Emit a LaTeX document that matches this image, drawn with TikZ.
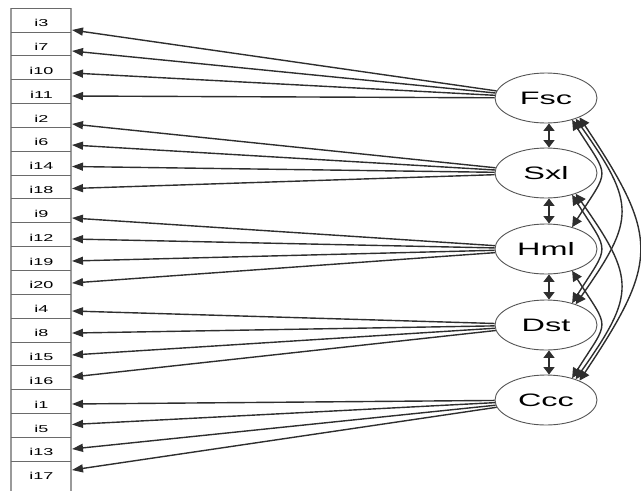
\documentclass[tikz,border=0pt]{standalone}
\usepackage{fontspec}
\setmainfont{Liberation Sans}
\newfontfamily\wfont[FakeStretch=1.8]{Liberation Sans}
\usetikzlibrary{arrows.meta,shapes.geometric,calc}
\definecolor{ln}{HTML}{2E2E2E}
\definecolor{bx}{HTML}{9A9A9A}
\definecolor{sep}{HTML}{6A6A6A}
\definecolor{el}{HTML}{555555}
\begin{document}
\begin{tikzpicture}[x=1pt,y=-1pt,
  lat/.style={ellipse,draw=el,line width=0.9pt,fill=white,minimum width=102pt,minimum height=50pt,inner sep=0pt,font=\wfont\fontsize{18pt}{18pt}\selectfont},
  itm/.style={inner sep=0pt,outer sep=0pt,minimum width=61pt,minimum height=12pt,font=\wfont\fontsize{10pt}{10pt}\selectfont},
  ld/.style={draw=ln,line width=1.4pt,-{Triangle[length=11pt,width=8pt]}},
  cv/.style={draw=ln,line width=1.4pt,{Triangle[length=7.5pt,width=11pt]}-{Triangle[length=7.5pt,width=11pt]}},
  cc/.style={draw=ln,line width=1.4pt,{Triangle[length=10pt,width=10pt]}-{Triangle[length=10pt,width=10pt]}},
  boxv/.style={draw=bx,line width=1.8pt},
  boxh/.style={draw=sep,line width=0.7pt}
]
\useasboundingbox (0,0) rectangle (641,491);
% item column
\draw[boxv] (11,8) -- (11,491);
\draw[boxv] (71,8) -- (71,491);
\foreach \k in {0,...,19} \draw[boxh] (11,{8+23.85*\k}) -- (71,{8+23.85*\k});
\foreach \k/\lab in {0/i3,1/i7,2/i10,3/i11,4/i2,5/i6,6/i14,7/i18,8/i9,9/i12,10/i19,11/i20,12/i4,13/i8,14/i15,15/i16,16/i1,17/i5,18/i13,19/i17}
  \node[itm] (b\k) at (41.5,{23+23.85*\k}) {\lab};
% latent variables
\node[lat] (Fsc) at (546,98) {Fsc};
\node[lat] (Sxl) at (546,173) {Sxl};
\node[lat] (Hml) at (546,249) {Hml};
\node[lat] (Dst) at (546,325) {Dst};
\node[lat] (Ccc) at (546,400) {Ccc};
% loadings
\foreach \s/\k/\d in {Fsc/0/7,Fsc/1/4.15,Fsc/2/2.3,Fsc/3/1.45,
  Sxl/4/5.6,Sxl/5/2.75,Sxl/6/0.4,Sxl/7/-1.45,
  Hml/8/4.2,Hml/9/1.35,Hml/10/-0.5,Hml/11/-2.35,
  Dst/12/1.8,Dst/13/0,Dst/14/-1.9,Dst/15/-3.75,
  Ccc/16/-0.6,Ccc/17/-3.95,Ccc/18/-3.3,Ccc/19/-6.15}
  \draw[ld] (\s) -- ($(b\k.east)+(0,\d)$);
% adjacent covariances
\draw[cv] ([xshift=3pt]Fsc.south) -- ([xshift=3pt]Sxl.north);
\draw[cv] ([xshift=3pt]Sxl.south) -- ([xshift=3pt]Hml.north);
\draw[cv] ([xshift=3pt]Hml.south) -- ([xshift=3pt]Dst.north);
\draw[cv] ([xshift=3pt]Dst.south) -- ([xshift=3pt]Ccc.north);
% curved covariances
\draw[cc] (Fsc.-40) .. controls +(38,60) and +(38,-60) .. (Hml.40);
\draw[cc] (Fsc.-35) .. controls +(60,85) and +(60,-85) .. (Dst.35);
\draw[cc] (Fsc.-30) .. controls +(80,120) and +(80,-120) .. (Ccc.30);
\draw[cc] (Sxl.-40) .. controls +(38,60) and +(38,-60) .. (Dst.40);
\draw[cc] (Sxl.-35) .. controls +(60,85) and +(60,-85) .. (Ccc.35);
\draw[cc] (Hml.-40) .. controls +(38,60) and +(38,-60) .. (Ccc.40);
\end{tikzpicture}
\end{document}
